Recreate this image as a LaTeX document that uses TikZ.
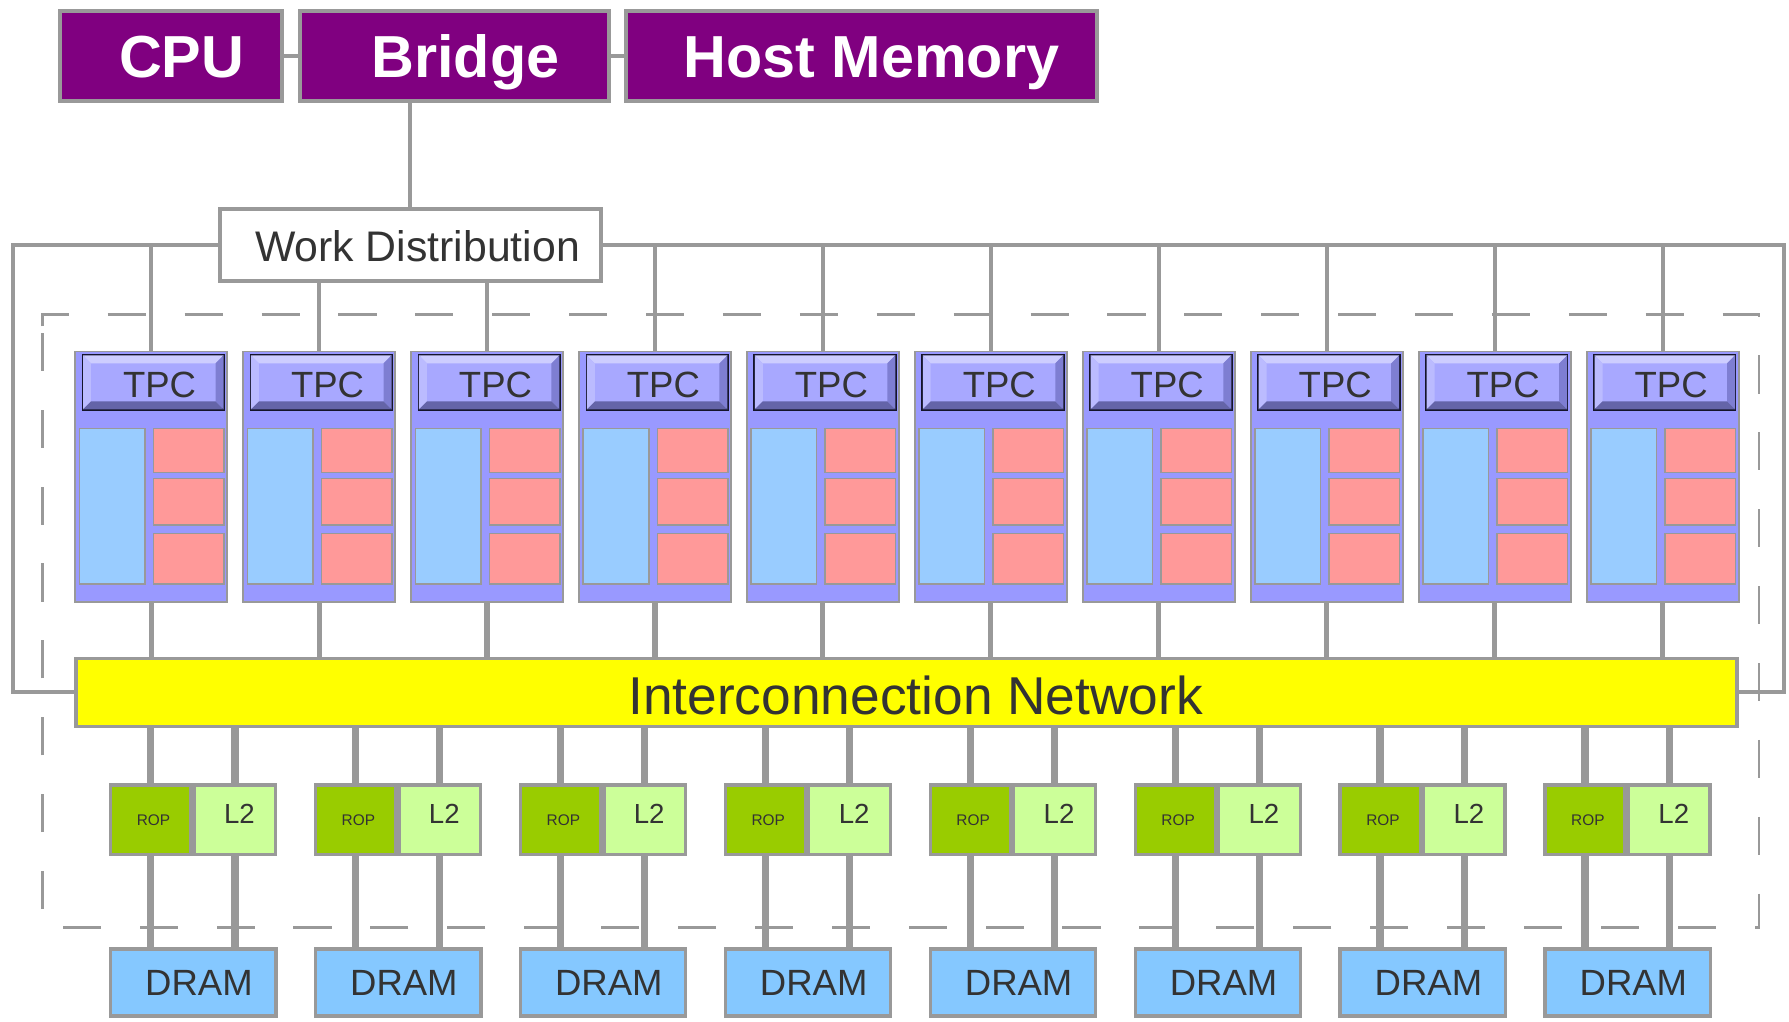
\documentclass[tikz,border=0pt]{standalone}
\usepackage{fontspec}
\setmainfont{Liberation Sans}
\definecolor{linegray}{HTML}{999999}
\definecolor{hostpurple}{HTML}{800080}
\definecolor{txtgray}{HTML}{333333}
\definecolor{tpcfill}{HTML}{9999FF}
\definecolor{tpchead}{HTML}{A8A8FF}
\definecolor{bevtop}{HTML}{CDCDFF}
\definecolor{bevleft}{HTML}{BBBBFF}
\definecolor{bevright}{HTML}{7E7ED2}
\definecolor{bevbottom}{HTML}{6464A8}
\definecolor{headline}{HTML}{14142A}
\definecolor{smblue}{HTML}{99CCFF}
\definecolor{smred}{HTML}{FF9999}
\definecolor{ropgreen}{HTML}{99CC00}
\definecolor{ltwogreen}{HTML}{CCFF99}
\definecolor{dramblue}{HTML}{85C8FF}
\definecolor{netyellow}{HTML}{FFFF00}
\begin{document}
\begin{tikzpicture}[x=1pt,y=-1pt,
  wire/.style={draw=linegray, line width=3.5pt},
  tpcwire/.style={draw=linegray, line width=4.5pt},
  memwire/.style={draw=linegray, line width=6.5pt},
  hostbox/.style={draw=linegray, line width=3.5pt, fill=hostpurple, text=white,
    font=\fontsize{52}{52}\selectfont\bfseries, inner sep=0pt,
    text height=37.2pt, text depth=0pt, minimum height=78.5pt},
  wdbox/.style={draw=linegray, line width=3.5pt, fill=white, text=txtgray,
    font=\fontsize{37.5}{37.5}\selectfont, inner sep=0pt,
    text height=26.9pt, text depth=0pt, minimum width=334pt, minimum height=63pt},
  tpcbox/.style={draw=linegray, line width=1.5pt, fill=tpcfill, inner sep=0pt,
    minimum width=133.2pt, minimum height=219.6pt},
  tpchdr/.style={draw=headline, line width=2.3pt, fill=tpchead, text=txtgray,
    font=\fontsize{32}{32}\selectfont, inner sep=0pt,
    text height=22.9pt, text depth=0pt, minimum width=123.2pt, minimum height=47.4pt},
  cell/.style={draw=linegray, line width=1.2pt},
  netbox/.style={draw=linegray, line width=3pt, fill=netyellow, text=txtgray,
    font=\fontsize{46.7}{46.7}\selectfont, inner sep=0pt,
    text height=33.4pt, text depth=0pt, minimum width=1456pt, minimum height=59.5pt},
  ropbox/.style={draw=linegray, line width=2.9pt, fill=ropgreen, text=txtgray,
    font=\fontsize{13.5}{13.5}\selectfont, inner sep=0pt,
    text height=9.7pt, text depth=0pt, minimum width=70.2pt, minimum height=60.8pt},
  ltwobox/.style={draw=linegray, line width=2.9pt, fill=ltwogreen, text=txtgray,
    font=\fontsize{24.2}{24.2}\selectfont, inner sep=0pt,
    text height=17.3pt, text depth=0pt, minimum width=71.5pt, minimum height=60.8pt},
  drambox/.style={draw=linegray, line width=2.9pt, fill=dramblue, text=txtgray,
    font=\fontsize{32}{32}\selectfont, inner sep=0pt,
    text height=22.9pt, text depth=0pt, minimum width=144.9pt, minimum height=58.8pt},
  chipframe/.style={draw=linegray, line width=2.5pt, dash pattern=on 33.4pt off 34pt}
]
\useasboundingbox (0,0) rectangle (1568,895);

% chip boundary
\draw[chipframe] (37,286) -- (37,276) -- (1541.7,276) -- (1541.7,812.8) -- (37,812.8) -- cycle;

% host side
\node[hostbox, minimum width=195pt] (cpu) at (149.75,49) {\hspace*{19pt}CPU};
\node[hostbox, minimum width=270.5pt] (bridge) at (398.5,49) {\hspace*{19pt}Bridge};
\node[hostbox, minimum width=413pt] (hostmem) at (755.25,49) {\hspace*{17pt}Host Memory};
\draw[wire] (cpu.east) -- (bridge.west);
\draw[wire] (bridge.east) -- (hostmem.west);

% work distribution
\node[wdbox] (wd) at (359.4,214.5) {\hspace*{13pt}\raisebox{-1.5pt}{Work Distribution}};
\draw[wire] (wd.north) -- (wd.north |- bridge.south);

% interconnection network
\node[netbox] (net) at (794.5,606.75) {\hspace*{16pt}\raisebox{-2.5pt}{Interconnection Network}};

% side rails from work distribution to the network
\coordinate (leftrail) at (11.7,0);
\coordinate (rightrail) at (1563.5,0);
\draw[wire] (wd.west) -| (leftrail |- net.west) -- (net.west);
\draw[wire] (wd.east) -| (rightrail |- net.east) -- (net.east);

% texture processor clusters
\foreach \i in {0,...,9} {
  \pgfmathsetmacro{\xl}{65.1+147.2*\i}
  \node[tpcbox, anchor=north west] (tpc\i) at (\xl,307.4) {};
  \node[tpchdr] (tpch\i) at (\xl+69.25,335.15) {\hspace*{11pt}\raisebox{-2pt}{TPC}};
  % bevel of the header button
  \pgfmathsetmacro{\hxa}{\xl+6.5+1.15}
  \pgfmathsetmacro{\hxb}{\xl+132-1.15}
  \def\hya{311.45}
  \def\hyb{358.85}
  \def\bw{7}
  \fill[bevtop] (\hxa,\hya) -- (\hxb,\hya) -- (\hxb-\bw,\hya+\bw) -- (\hxa+\bw,\hya+\bw) -- cycle;
  \fill[bevleft] (\hxa,\hya) -- (\hxa+\bw,\hya+\bw) -- (\hxa+\bw,\hyb-\bw) -- (\hxa,\hyb) -- cycle;
  \fill[bevright] (\hxb,\hya) -- (\hxb,\hyb) -- (\hxb-\bw,\hyb-\bw) -- (\hxb-\bw,\hya+\bw) -- cycle;
  \fill[bevbottom] (\hxa,\hyb) -- (\hxa+\bw,\hyb-\bw) -- (\hxb-\bw,\hyb-\bw) -- (\hxb,\hyb) -- cycle;
  % processor array and functional units
  \draw[cell, fill=smblue] (\xl+4.4,375.4) rectangle (\xl+62,511.9);
  \draw[cell, fill=smred] (\xl+69.3,375.4) rectangle (\xl+131.2,414);
  \draw[cell, fill=smred] (\xl+69.3,419.2) rectangle (\xl+131.2,460.1);
  \draw[cell, fill=smred] (\xl+69.3,467.4) rectangle (\xl+131.2,511.9);
  % link to the network
  \draw[tpcwire] (tpc\i.south) -- (tpc\i.south |- net.north);
}

% feeds from work distribution
\foreach \i in {0,3,4,5,6,7,8,9}
  \draw[wire] (tpc\i.north) -- (tpc\i.north |- wd.east);
\foreach \i in {1,2}
  \draw[wire] (tpc\i.north) -- (tpc\i.north |- wd.south);

% memory partitions
\foreach \k in {0,...,7} {
  \pgfmathsetmacro{\ml}{95.5+179.6*\k}
  \node[ropbox] (rop\k) at (\ml+36.55,718.45) {\hspace*{5pt}ROP};
  \node[ltwobox] (ltwo\k) at (\ml+110.3,718.45) {\hspace*{8pt}\raisebox{5.5pt}{L2}};
  \node[drambox] (dram\k) at (\ml+73.9,861.1) {\hspace*{10pt}DRAM};
  \draw[memwire] (rop\k.north |- net.south) -- (rop\k.north);
  \draw[memwire] (ltwo\k.north |- net.south) -- (ltwo\k.north);
  \draw[memwire] (rop\k.south) -- (rop\k.south |- dram\k.north);
  \draw[memwire] (ltwo\k.south) -- (ltwo\k.south |- dram\k.north);
}
\end{tikzpicture}
\end{document}
